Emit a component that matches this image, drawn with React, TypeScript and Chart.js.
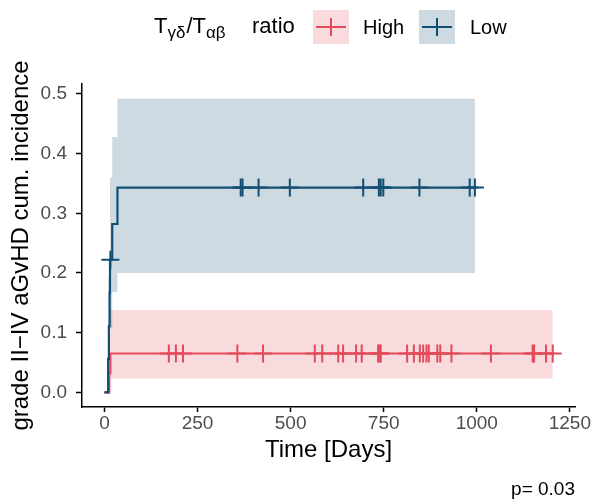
import React, { useEffect, useRef } from 'react';
import { Chart, registerables } from 'chart.js';

Chart.register(...registerables);

// ---- Data ----
const groups = ['High', 'Low'];

const highEventDays = [13, 16];
const highCumInc = [0.032, 0.065];
const highCensorDays = [173, 192, 211, 357, 426, 565, 585, 628, 641, 676, 691, 735, 739, 742, 813, 831, 847, 856, 865, 871, 894, 902, 932, 1038, 1150, 1154, 1186, 1204];
const highBandDays = [13, 16, 1204];
const highBandLower = [0.004, 0.023, 0.023];
const highBandUpper = [0.1, 0.138, 0.138];

const lowEventDays = [10, 12, 14, 15, 21, 35];
const lowCumInc = [0.056, 0.111, 0.167, 0.222, 0.282, 0.343];
const lowCensorDays = [16, 366, 371, 414, 498, 695, 737, 742, 749, 846, 981, 995];
const lowBandDays = [10, 15, 21, 35, 995];
const lowBandLower = [0.107, 0.107, 0.168, 0.2, 0.2];
const lowBandUpper = [0.193, 0.36, 0.428, 0.492, 0.492];

const xTicks = [0, 250, 500, 750, 1000, 1250];
const yTicks = [0, 0.1, 0.2, 0.3, 0.4, 0.5];

const pValueText = 'p= 0.03';

// ---- Styles ----
const FONT = "'Liberation Sans', Arial, Helvetica, sans-serif";
const RED = '#E34A5B';
const BLUE = '#124E74';
const RED_BAND = 'rgba(227,74,91,0.2)';
const BLUE_BAND = 'rgba(18,78,116,0.21)';

const stepPoints = (days: number[], vals: number[], endDay: number) => [
  { x: 0, y: 0 },
  ...days.map((d, i) => ({ x: d, y: vals[i] })),
  { x: endDay, y: vals[vals.length - 1] },
];
const bandPoints = (days: number[], vals: number[]) => days.map((d, i) => ({ x: d, y: vals[i] }));
const valueAt = (t: number, days: number[], vals: number[]) => {
  let v = 0;
  days.forEach((d, i) => {
    if (d <= t) v = vals[i];
  });
  return v;
};
const censorPoints = (censor: number[], days: number[], vals: number[]) =>
  censor.map((c) => ({ x: c, y: valueAt(c, days, vals) }));

const legendPlugin = {
  id: 'customLegend',
  afterDraw(chart: any) {
    const ctx = chart.ctx as CanvasRenderingContext2D;
    ctx.save();
    ctx.fillStyle = '#000';
    ctx.textBaseline = 'alphabetic';
    ctx.textAlign = 'left';
    // title with subscripts
    let x = 154;
    const base = 33;
    const big = `22px ${FONT}`;
    const small = `17px ${FONT}`;
    const parts: [string, boolean][] = [
      ['T', false],
      ['γδ', true],
      ['/', false],
      ['T', false],
      ['αβ', true],
    ];
    parts.forEach(([t, sub]) => {
      ctx.font = sub ? small : big;
      ctx.fillText(t, x, sub ? base + 5 : base);
      x += ctx.measureText(t).width + (sub ? 1 : 0);
    });
    ctx.font = big;
    ctx.fillText('ratio', 252, base);

    const keys = [
      { label: groups[0], band: RED_BAND, color: RED, bx: 313, tx: 363 },
      { label: groups[1], band: BLUE_BAND, color: BLUE, bx: 419, tx: 470 },
    ];
    keys.forEach((k) => {
      ctx.fillStyle = k.band;
      ctx.fillRect(k.bx, 10, 36, 34);
      ctx.strokeStyle = k.color;
      ctx.lineWidth = 2;
      ctx.beginPath();
      ctx.moveTo(k.bx + 3, 27);
      ctx.lineTo(k.bx + 33, 27);
      ctx.moveTo(k.bx + 18, 18);
      ctx.lineTo(k.bx + 18, 36);
      ctx.stroke();
      ctx.fillStyle = '#000';
      ctx.font = `20px ${FONT}`;
      ctx.fillText(k.label, k.tx, 34);
    });

    // p-value
    ctx.font = `19px ${FONT}`;
    ctx.textAlign = 'right';
    ctx.fillText(pValueText, 575, 495);
    ctx.restore();
  },
};

export default function App() {
  const ref = useRef<HTMLCanvasElement>(null);

  useEffect(() => {
    document.body.style.margin = '0';
    const canvas = ref.current;
    if (!canvas) return;

    const highEnd = Math.max(...highCensorDays);
    const lowEnd = Math.max(...lowCensorDays);

    const chart = new Chart(canvas, {
      type: 'line',
      data: {
        datasets: [
          {
            label: 'High upper',
            data: bandPoints(highBandDays, highBandUpper),
            stepped: true,
            borderColor: 'transparent',
            borderWidth: 0,
            pointRadius: 0,
            fill: false,
            order: 10,
          },
          {
            label: 'High lower',
            data: bandPoints(highBandDays, highBandLower),
            stepped: true,
            borderColor: 'transparent',
            borderWidth: 0,
            pointRadius: 0,
            fill: 0,
            backgroundColor: RED_BAND,
            order: 9,
          },
          {
            label: 'Low upper',
            data: bandPoints(lowBandDays, lowBandUpper),
            stepped: true,
            borderColor: 'transparent',
            borderWidth: 0,
            pointRadius: 0,
            fill: false,
            order: 8,
          },
          {
            label: 'Low lower',
            data: bandPoints(lowBandDays, lowBandLower),
            stepped: true,
            borderColor: 'transparent',
            borderWidth: 0,
            pointRadius: 0,
            fill: 2,
            backgroundColor: BLUE_BAND,
            order: 7,
          },
          {
            label: 'High',
            data: stepPoints(highEventDays, highCumInc, highEnd),
            stepped: true,
            borderColor: RED,
            borderWidth: 2.2,
            pointRadius: 0,
            fill: false,
            order: 4,
          },
          {
            label: 'High censored',
            data: censorPoints(highCensorDays, highEventDays, highCumInc),
            showLine: false,
            pointStyle: 'cross',
            pointRadius: 9,
            pointBorderWidth: 2,
            pointBorderColor: RED,
            borderColor: RED,
            order: 3,
          },
          {
            label: 'Low',
            data: stepPoints(lowEventDays, lowCumInc, lowEnd),
            stepped: true,
            borderColor: BLUE,
            borderWidth: 2.2,
            pointRadius: 0,
            fill: false,
            order: 2,
          },
          {
            label: 'Low censored',
            data: censorPoints(lowCensorDays, lowEventDays, lowCumInc),
            showLine: false,
            pointStyle: 'cross',
            pointRadius: 9,
            pointBorderWidth: 2,
            pointBorderColor: BLUE,
            borderColor: BLUE,
            order: 1,
          },
        ] as any,
      },
      options: {
        responsive: false,
        animation: false,
        events: [],
        devicePixelRatio: 1,
        layout: { padding: { left: 7, right: 17, top: 84, bottom: 39 } },
        plugins: {
          legend: { display: false },
          tooltip: { enabled: false },
          title: { display: false },
        },
        scales: {
          x: {
            type: 'linear',
            min: -60.2,
            max: 1263.8,
            afterBuildTicks: (s: any) => {
              s.ticks = xTicks.map((v) => ({ value: v }));
            },
            afterFit: (s: any) => {
              s.height = 58;
            },
            grid: {
              display: true,
              drawOnChartArea: false,
              drawTicks: true,
              tickLength: 5,
              tickColor: '#000',
              tickWidth: 1.5,
            },
            border: { display: true, color: '#000', width: 1.5 },
            ticks: {
              color: '#4D4D4D',
              font: { family: FONT, size: 19 },
              padding: 0,
              maxRotation: 0,
              autoSkip: false,
              callback: (v: any) => String(v),
            },
            title: {
              display: true,
              text: 'Time [Days]',
              color: '#000',
              font: { family: FONT, size: 24 },
              padding: 0,
            },
          },
          y: {
            type: 'linear',
            min: -0.0246,
            max: 0.5166,
            afterBuildTicks: (s: any) => {
              s.ticks = yTicks.map((v) => ({ value: v }));
            },
            afterFit: (s: any) => {
              s.width = 75;
            },
            grid: {
              display: true,
              drawOnChartArea: false,
              drawTicks: true,
              tickLength: 6,
              tickColor: '#000',
              tickWidth: 1.5,
            },
            border: { display: true, color: '#000', width: 1.5 },
            ticks: {
              color: '#4D4D4D',
              font: { family: FONT, size: 19 },
              padding: 9,
              autoSkip: false,
              callback: (v: any) => Number(v).toFixed(1),
            },
            title: {
              display: true,
              text: 'grade II−IV aGvHD cum. incidence',
              color: '#000',
              font: { family: FONT, size: 24 },
              padding: 0,
            },
          },
        },
      } as any,
      plugins: [legendPlugin],
    });

    return () => chart.destroy();
  }, []);

  return (
    <div style={{ width: 592, height: 504, position: 'relative', background: '#fff' }}>
      <canvas ref={ref} width={592} height={504} style={{ display: 'block', width: 592, height: 504 }} />
    </div>
  );
}
